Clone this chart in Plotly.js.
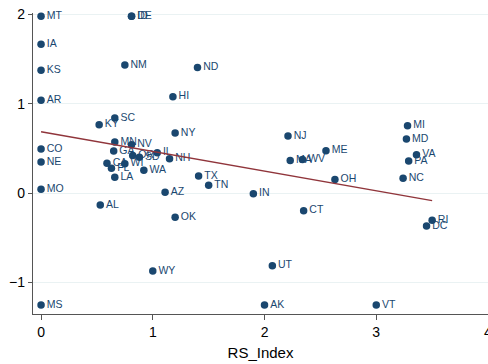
<!DOCTYPE html>
<html>
<head>
<meta charset="utf-8">
<script src="https://cdn.plot.ly/plotly-3.0.1.min.js"></script>
<style>
  html, body { margin: 0; padding: 0; background: #ffffff; }
  #chart { width: 488px; height: 364px; }
</style>
</head>
<body>
<div id="chart"></div>
<script>
// State labels with their RS index and outcome value
const states = [
  "MT", "IA", "KS", "AR", "CO", "NE", "MO", "MS",
  "ID", "DE", "NM", "ND", "HI", "SC", "KY", "NY",
  "MN", "NV", "GA", "IL", "NH", "CA", "FL", "WI",
  "OR", "SD", "WA", "LA", "AL", "AZ", "TX", "TN",
  "OK", "WY", "UT", "AK", "IN", "NJ", "ME", "MA",
  "WV", "OH", "CT", "MI", "MD", "VA", "PA", "NC",
  "RI", "DC", "VT"
];
const rsIndex = [
  0, 0, 0, 0, 0, 0, 0, 0,
  0.81, 0.81, 0.75, 1.40, 1.18, 0.66, 0.52, 1.20,
  0.66, 0.81, 0.65, 1.04, 1.15, 0.59, 0.63, 0.75,
  0.82, 0.88, 0.92, 0.66, 0.53, 1.11, 1.41, 1.50,
  1.20, 1.00, 2.07, 2.00, 1.90, 2.21, 2.55, 2.23,
  2.34, 2.63, 2.35, 3.28, 3.27, 3.36, 3.29, 3.24,
  3.50, 3.45, 3.00
];
const outcome = [
  1.98, 1.665, 1.374, 1.038, 0.493, 0.347, 0.041, -1.254,
  1.98, 1.98, 1.433, 1.407, 1.078, 0.84, 0.765, 0.672,
  0.571, 0.541, 0.470, 0.451, 0.384, 0.332, 0.277, 0.328,
  0.42, 0.40, 0.254, 0.176, -0.134, 0.008, 0.19, 0.086,
  -0.272, -0.873, -0.814, -1.254, -0.008, 0.638, 0.474, 0.365,
  0.375, 0.151, -0.198, 0.754, 0.605, 0.429, 0.358, 0.165,
  -0.306, -0.37, -1.254
];

// Linear fit endpoints
const fitX = [0, 3.5];
const fitY = [0.686, -0.086];

const navy = "#1a476f";
const maroon = "#90353b";
const font = "Liberation Sans, Arial, Helvetica, sans-serif";

const traces = [
  {
    type: "scatter",
    mode: "markers+text",
    x: rsIndex,
    y: outcome,
    text: states,
    textposition: "middle right",
    textfont: { family: font, size: 10.5, color: navy },
    marker: { color: navy, size: 7.5 },
    cliponaxis: false,
    hoverinfo: "skip"
  },
  {
    type: "scatter",
    mode: "lines",
    x: fitX,
    y: fitY,
    line: { color: maroon, width: 1.3 },
    hoverinfo: "skip"
  }
];

const layout = {
  width: 488,
  height: 364,
  margin: { l: 33, r: 0, t: 13, b: 50 },
  paper_bgcolor: "#ffffff",
  plot_bgcolor: "#ffffff",
  showlegend: false,
  font: { family: font, color: "#000000" },
  xaxis: {
    range: [-0.072, 4.0],
    tickvals: [0, 1, 2, 3, 4],
    ticktext: ["0", "1", "2", "3", "4"],
    ticklabeloverflow: "allow",
    showgrid: false,
    zeroline: false,
    showline: true,
    linecolor: "#555555",
    linewidth: 1.2,
    ticks: "outside",
    ticklen: 5,
    tickcolor: "#555555",
    tickfont: { family: font, size: 14, color: "#000000" },
    title: { text: "RS_Index", font: { family: font, size: 15, color: "#000000" }, standoff: 8 }
  },
  yaxis: {
    range: [-1.355, 2.016],
    tickvals: [-1, 0, 1, 2],
    showgrid: true,
    gridcolor: "#eaf2f3",
    gridwidth: 1,
    zeroline: false,
    showline: true,
    linecolor: "#555555",
    linewidth: 1.2,
    ticks: "outside",
    ticklen: 4,
    tickcolor: "#555555",
    tickfont: { family: font, size: 14, color: "#000000" }
  }
};

Plotly.newPlot("chart", traces, layout, { staticPlot: true, displayModeBar: false });
</script>
</body>
</html>
